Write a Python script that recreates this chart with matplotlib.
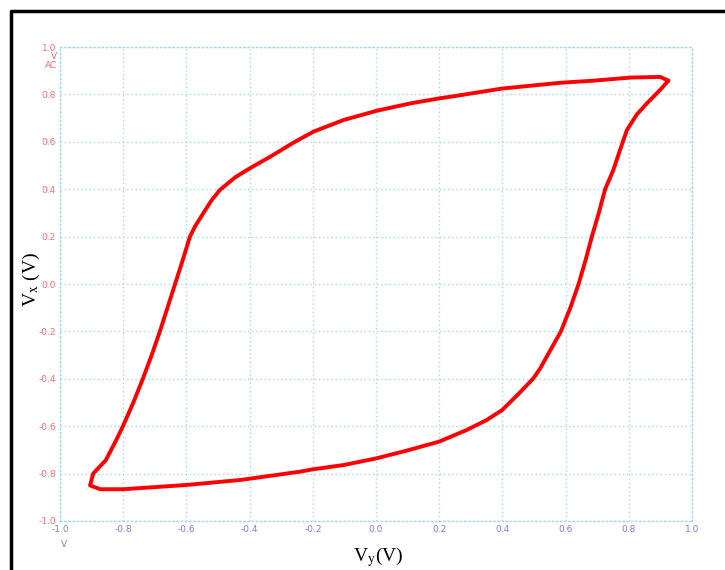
import matplotlib
matplotlib.use("Agg")
import matplotlib.pyplot as plt
from matplotlib.lines import Line2D

# Hysteresis loop traced on the scope (Vy on x, Vx on y), one closed pass
vy = [0.925, 0.899, 0.804, 0.688, 0.582, 0.40, 0.234, 0.203, 0.108, 0.002, -0.103,
      -0.198, -0.262, -0.335, -0.40, -0.446, -0.494, -0.52, -0.547, -0.572, -0.589,
      -0.612, -0.636, -0.66, -0.684, -0.71, -0.738, -0.768, -0.801, -0.822, -0.855,
      -0.895, -0.905, -0.873, -0.80, -0.60, -0.43, -0.241, -0.20, -0.103, 0.0, 0.097,
      0.20, 0.287, 0.35, 0.399, 0.45, 0.498, 0.52, 0.54, 0.585, 0.615, 0.641, 0.663,
      0.683, 0.705, 0.725, 0.751, 0.772, 0.794, 0.825, 0.857, 0.899, 0.925]
vx = [0.858, 0.874, 0.871, 0.858, 0.849, 0.825, 0.790, 0.784, 0.762, 0.731, 0.692,
      0.643, 0.596, 0.537, 0.488, 0.450, 0.397, 0.354, 0.298, 0.245, 0.200,
      0.10, 0.0, -0.10, -0.20, -0.30, -0.40, -0.50, -0.60, -0.658, -0.743,
      -0.80, -0.850, -0.866, -0.866, -0.848, -0.827, -0.792, -0.782, -0.764, -0.736, -0.703,
      -0.665, -0.616, -0.574, -0.532, -0.465, -0.398, -0.355, -0.307, -0.20, -0.10, 0.0, 0.10,
      0.20, 0.30, 0.40, 0.481, 0.565, 0.65, 0.715, 0.762, 0.819, 0.858]

ticks = [-1.0, -0.8, -0.6, -0.4, -0.2, 0.0, 0.2, 0.4, 0.6, 0.8, 1.0]
tick_labels = ["-1.0", "-0.8", "-0.6", "-0.4", "-0.2", "0.0", "0.2", "0.4", "0.6", "0.8", "1.0"]

plt.rcParams["font.family"] = "Liberation Serif"
plt.rcParams["mathtext.fontset"] = "stix"

fig = plt.figure(figsize=(7.25, 5.7), dpi=100)
ax = fig.add_axes([0.0828, 0.086, 0.8717, 0.8315])

ax.plot(vy, vx, color="#ff0000", linewidth=2.8,
        solid_joinstyle="round", solid_capstyle="round")

ax.set_xlim(-1, 1)
ax.set_ylim(-1, 1)
ax.set_xticks(ticks)
ax.set_yticks(ticks)
ax.set_xticklabels(tick_labels, fontfamily="DejaVu Sans", fontsize=6.5, color="#7878ff")
ax.set_yticklabels(tick_labels, fontfamily="DejaVu Sans", fontsize=6.5, color="#ff6a6a")
ax.tick_params(length=0, pad=3)

grid_color = "#a6d8e6"
ax.grid(True, color=grid_color, linestyle=(0, (1, 2)), linewidth=1)
for side in ax.spines.values():
    side.set_color(grid_color)
    side.set_linestyle((0, (1, 2)))
    side.set_linewidth(1)

# unit markers under the end labels
ax.text(-0.004, 0.99, "V\nAC", transform=ax.transAxes, ha="right", va="top",
        fontfamily="DejaVu Sans", fontsize=6.5, color="#ff6a6a", linespacing=1.0)
ax.text(0.006, -0.04, "V", transform=ax.transAxes, ha="center", va="top",
        fontfamily="DejaVu Sans", fontsize=6.5, color="#7878ff")

fig.text(0.043, 0.51, r"V$_{\mathrm{x}}$ (V)", rotation=90, ha="center", va="center",
         fontsize=14)
fig.text(0.522, 0.022, r"V$_{\mathrm{y}}$(V)", ha="center", va="center", fontsize=14)

# outer black frame (left and top edges)
fig.add_artist(Line2D([0.0145, 0.0145, 1.0], [0.0, 0.981, 0.981], color="black",
                      linewidth=2.5, transform=fig.transFigure))

fig.savefig("out.png", dpi=100)
